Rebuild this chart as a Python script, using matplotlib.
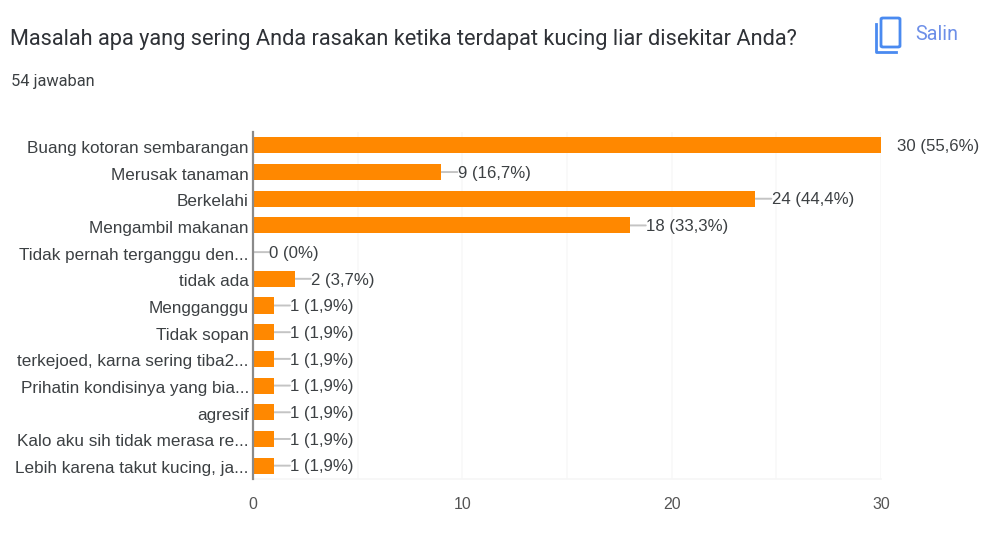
import matplotlib
matplotlib.use("Agg")
import matplotlib.pyplot as plt
from matplotlib.patches import FancyBboxPatch
from matplotlib.lines import Line2D
from matplotlib.transforms import ScaledTranslation

W, H = 983, 539

labels = [
    "Buang kotoran sembarangan",
    "Merusak tanaman",
    "Berkelahi",
    "Mengambil makanan",
    "Tidak pernah terganggu den...",
    "tidak ada",
    "Mengganggu",
    "Tidak sopan",
    "terkejoed, karna sering tiba2...",
    "Prihatin kondisinya yang bia...",
    "agresif",
    "Kalo aku sih tidak merasa re...",
    "Lebih karena takut kucing, ja...",
]
values = [30, 9, 24, 18, 0, 2, 1, 1, 1, 1, 1, 1, 1]
percents = ["55,6%", "16,7%", "44,4%", "33,3%", "0%", "3,7%", "1,9%", "1,9%",
            "1,9%", "1,9%", "1,9%", "1,9%", "1,9%"]
xticks = [0, 10, 20, 30]
grid_x = [5, 10, 15, 20, 25, 30]

plt.rcParams["font.family"] = ["Roboto", "DejaVu Sans"]
arial = ["Liberation Sans", "DejaVu Sans"]

fig = plt.figure(figsize=(W / 100, H / 100), dpi=100)
ax = fig.add_axes([253 / W, 1 - 479 / H, 628 / W, 347 / H])

ax.barh(range(len(values)), values, height=0.6, color="#ff8800", zorder=3)
ax.set_xlim(0, 30)
ax.set_ylim(len(values) - 0.5, -0.5)

# gridlines are very faint in the original
for g in grid_x:
    ax.axvline(g, color="#f8f8f8", lw=1.2, zorder=1)
ax.axhline(len(values) - 0.5, color="#f6f6f6", lw=1.2, zorder=1, clip_on=False)

for i, (v, p) in enumerate(zip(values, percents)):
    if v < 30:
        ax.annotate("", xy=(v, i), xytext=(11.5, 0), textcoords="offset points",
                    arrowprops=dict(arrowstyle="-", color="#c4c4c4", lw=1.4,
                                    shrinkA=0, shrinkB=0), zorder=2)
    ax.annotate(f"{v} ({p})", xy=(v, i), xytext=(11.6, -0.9), textcoords="offset points",
                va="center", ha="left", fontsize=12.1, color="#3c4043",
                family=arial, annotation_clip=False)

ax.set_yticks(range(len(values)))
ax.set_yticklabels(labels, fontsize=12.3, color="#3c4043", family=arial)
ax.set_xticks(xticks)
ax.set_xticklabels([str(x) for x in xticks], fontsize=11.4, color="#555555", family=arial)
ax.tick_params(axis="both", length=0)
ax.tick_params(axis="y", pad=3)
ax.tick_params(axis="x", pad=13)

# row labels sit a little below the bar centre
shift = ScaledTranslation(0, -1.5 / 100, fig.dpi_scale_trans)
for t in ax.get_yticklabels():
    t.set_transform(t.get_transform() + shift)

for s in ["top", "right", "bottom"]:
    ax.spines[s].set_visible(False)
ax.spines["left"].set_color("#8a8a8a")
ax.spines["left"].set_linewidth(1.6)
ax.spines["left"].set_zorder(4)

# header
fig.text(10 / W, 1 - 40 / H, "Masalah apa yang sering Anda rasakan ketika terdapat kucing liar disekitar Anda?",
         fontsize=15.65, color="#2f3237", va="center", ha="left")
fig.text(11 / W, 1 - 81 / H, "54 jawaban", fontsize=11.8, color="#3c4043", va="center", ha="left")
fig.text(915 / W, 1 - 34 / H, "Salin", fontsize=14.2, color="#6d8fe8", va="center", ha="left")

# copy icon
blue = "#4a8af0"
fig.add_artist(FancyBboxPatch((881 / W, 1 - 47 / H), 19 / W, 29 / H,
                              boxstyle="round,pad=0,rounding_size=0.002",
                              transform=fig.transFigure, fill=False, ec=blue, lw=2))
fig.add_artist(Line2D([876 / W, 876 / W, 896 / W], [1 - 24 / H, 1 - 52 / H, 1 - 52 / H],
                      transform=fig.transFigure, color=blue, lw=2))

fig.savefig("out.png", dpi=100)
